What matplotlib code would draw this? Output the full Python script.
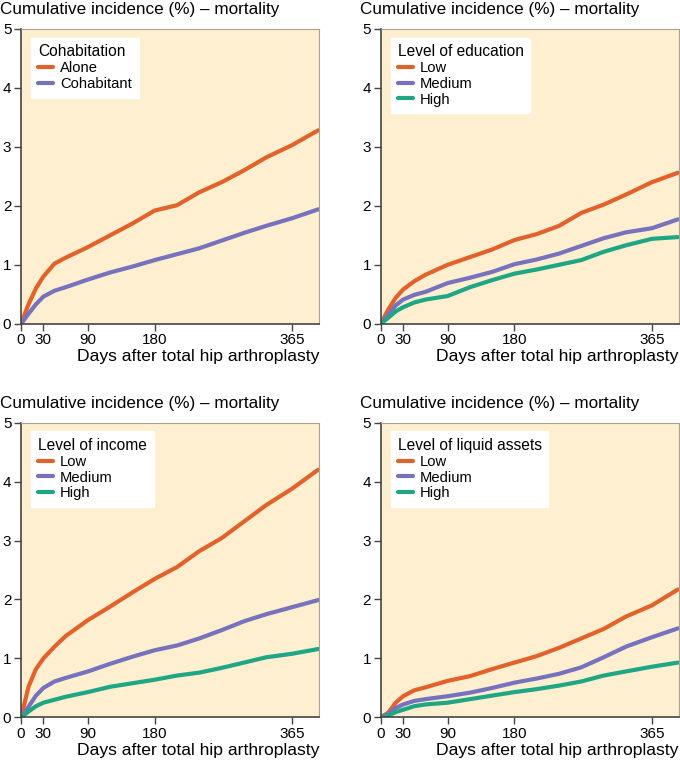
import matplotlib
matplotlib.use("Agg")
import matplotlib.pyplot as plt

plt.rcParams["font.family"] = ["Liberation Sans", "DejaVu Sans"]

DAYS = [0, 10, 20, 30, 45, 60, 90, 120, 150, 180, 210, 240, 270, 300, 330, 365, 400]

# cohabitation
COHAB_LABELS = ["Alone", "Cohabitant"]
COHAB_ALONE = [0, 0.33, 0.60, 0.80, 1.02, 1.12, 1.30, 1.50, 1.70, 1.92, 2.01, 2.23, 2.40, 2.60, 2.82, 3.03, 3.28]
COHAB_WITH = [0, 0.17, 0.33, 0.46, 0.56, 0.62, 0.75, 0.87, 0.97, 1.08, 1.18, 1.28, 1.41, 1.54, 1.66, 1.79, 1.94]

# education
EDU_LOW = [0, 0.24, 0.44, 0.58, 0.72, 0.83, 1.00, 1.13, 1.26, 1.42, 1.52, 1.66, 1.88, 2.02, 2.19, 2.40, 2.56]
EDU_MED = [0, 0.15, 0.31, 0.41, 0.49, 0.54, 0.69, 0.78, 0.88, 1.01, 1.09, 1.19, 1.32, 1.45, 1.55, 1.62, 1.77]
EDU_HIGH = [0, 0.10, 0.21, 0.28, 0.36, 0.41, 0.47, 0.62, 0.74, 0.85, 0.92, 1.00, 1.08, 1.22, 1.33, 1.44, 1.47]

# income
INC_LOW = [0, 0.52, 0.82, 1.00, 1.20, 1.38, 1.65, 1.88, 2.12, 2.35, 2.55, 2.82, 3.04, 3.32, 3.60, 3.88, 4.20]
INC_MED = [0, 0.18, 0.37, 0.50, 0.61, 0.67, 0.78, 0.91, 1.03, 1.14, 1.22, 1.34, 1.48, 1.63, 1.75, 1.87, 1.99]
INC_HIGH = [0, 0.10, 0.19, 0.25, 0.30, 0.35, 0.43, 0.52, 0.58, 0.64, 0.71, 0.76, 0.84, 0.93, 1.02, 1.08, 1.16]

# liquid assets
LIQ_LOW = [0, 0.08, 0.25, 0.36, 0.46, 0.51, 0.62, 0.70, 0.82, 0.93, 1.04, 1.18, 1.34, 1.50, 1.71, 1.90, 2.17]
LIQ_MED = [0, 0.06, 0.16, 0.22, 0.28, 0.31, 0.36, 0.42, 0.50, 0.59, 0.66, 0.74, 0.85, 1.02, 1.20, 1.36, 1.51]
LIQ_HIGH = [0, 0.03, 0.09, 0.13, 0.19, 0.22, 0.25, 0.31, 0.37, 0.43, 0.48, 0.54, 0.61, 0.71, 0.78, 0.86, 0.93]

LEVEL_LABELS = ["Low", "Medium", "High"]
XTICKS = [0, 30, 90, 180, 365]
YTICKS = [0, 1, 2, 3, 4, 5]

TITLE = "Cumulative incidence (%) \u2013 mortality"
XLABEL = "Days after total hip arthroplasty"

ORANGE = "#e2622b"
PURPLE = "#7672bd"
GREEN = "#1fa684"
BG = "#feefd0"

panels = [
    ("Cohabitation", COHAB_LABELS, [COHAB_ALONE, COHAB_WITH]),
    ("Level of education", LEVEL_LABELS, [EDU_LOW, EDU_MED, EDU_HIGH]),
    ("Level of income", LEVEL_LABELS, [INC_LOW, INC_MED, INC_HIGH]),
    ("Level of liquid assets", LEVEL_LABELS, [LIQ_LOW, LIQ_MED, LIQ_HIGH]),
]
colors = [ORANGE, PURPLE, GREEN]

fig = plt.figure(figsize=(6.8, 7.6), dpi=100)
# axes boxes in figure fraction
boxes = [
    (0.031, 0.574, 0.438, 0.388),
    (0.560, 0.574, 0.438, 0.388),
    (0.031, 0.056, 0.438, 0.388),
    (0.560, 0.056, 0.438, 0.388),
]

for (legtitle, labels, series), box in zip(panels, boxes):
    ax = fig.add_axes(box)
    ax.set_facecolor(BG)
    for vals, lab, c in zip(series, labels, colors):
        ax.plot(DAYS, vals, color=c, lw=3, label=lab, solid_capstyle="round")
    ax.set_xlim(0, 401)
    ax.set_ylim(0, 5)
    ax.set_xticks(XTICKS)
    ax.set_yticks(YTICKS)
    ax.tick_params(axis="both", labelsize=11, length=5, width=1, color="#444444", pad=2)
    for s in ("left", "bottom"):
        ax.spines[s].set_color("#444444")
        ax.spines[s].set_linewidth(1.2)
    for s in ("top", "right"):
        ax.spines[s].set_color("#a8a290")
        ax.spines[s].set_linewidth(0.8)
    ax.set_xlabel(XLABEL, fontsize=12.6, loc="right", labelpad=1)
    ax.text(-0.07, 1.04, TITLE, transform=ax.transAxes, fontsize=12.3,
            ha="left", va="bottom")
    leg = ax.legend(title=legtitle, loc="upper left", bbox_to_anchor=(0.02, 0.985),
                    fontsize=10.6, title_fontsize=11.2, frameon=True, fancybox=False,
                    handlelength=1.0, handletextpad=0.5, labelspacing=0.12,
                    borderpad=0.45, borderaxespad=0.3)
    leg._legend_box.align = "left"
    leg.get_frame().set_facecolor("white")
    leg.get_frame().set_edgecolor("white")
    leg.get_frame().set_alpha(1)

fig.savefig("out.png", dpi=100)
